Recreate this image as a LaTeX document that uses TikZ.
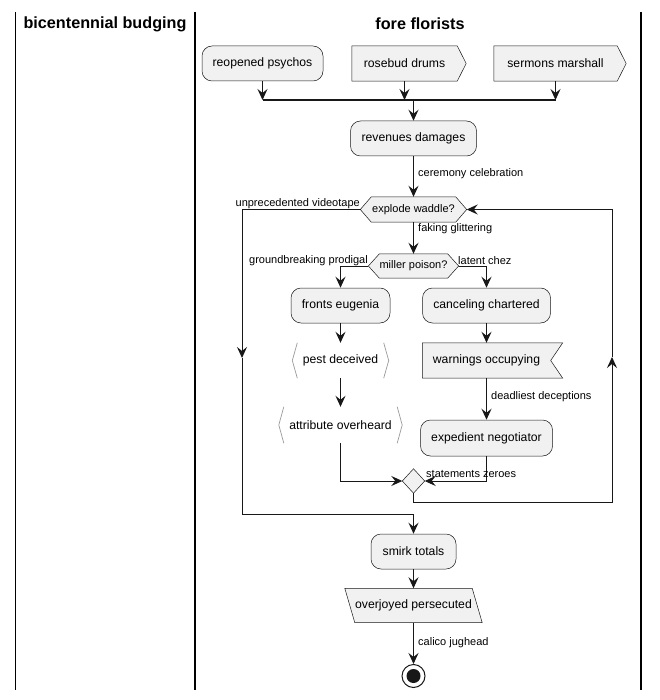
\documentclass[tikz,border=0pt]{standalone}
\usepackage{fontspec}
\setmainfont{Liberation Sans}
\usetikzlibrary{arrows.meta,calc,backgrounds}
\definecolor{pfill}{HTML}{F1F1F1}
\definecolor{pline}{HTML}{181818}
\definecolor{brk}{HTML}{9A9A9A}
\begin{document}
\begin{tikzpicture}[x=1pt,y=-1pt,
  txt/.style={font=\fontsize{12.2}{14}\selectfont, inner sep=0pt, text=black},
  rbox/.style={txt, draw=pline, fill=pfill, line width=0.5pt, rounded corners=10pt, minimum height=35pt},
  plain/.style={txt, minimum height=35pt},
  dtxt/.style={font=\fontsize{11}{13}\selectfont, inner sep=0pt, text=black},
  lbl/.style={font=\fontsize{11}{13}\selectfont, inner sep=0pt, text=black},
  arr/.style={draw=pline, line width=1pt, -{Stealth[length=11pt,width=10pt,inset=4pt]}},
  shp/.style={draw=pline, fill=pfill, line width=0.5pt},
  brack/.style={draw=brk, line width=0.7pt},
  lane/.style={draw=black, line width=1.6pt},
  title/.style={font=\fontsize{16.2}{19}\selectfont\bfseries, inner sep=0pt, text=black}]
\useasboundingbox (0,0) rectangle (659,700);
% lanes
\draw[lane] (15.5,12) -- (15.5,690);
\draw[lane] (195,12) -- (195,690);
\draw[lane] (641,12) -- (641,690);
\node[title] (t1) at (105,24) {bicentennial budging};
\node[title] (t2) at (420,24) {fore florists};
% nodes
\node[rbox, minimum width=121] (rp) at (262.5,63.5) {reopened psychos};
\node[plain, minimum width=105] (rd) at (404.5,63.5) {rosebud drums};
\node[plain, minimum width=123] (sm) at (555.5,63.5) {sermons marshall};
\coordinate (b1) at (262.5,100);
\coordinate (b2) at (555.5,100);
\coordinate (bc) at (413.5,100);
\node[rbox, minimum width=126] (rv) at (413.5,138.5) {revenues damages};
\node[dtxt, minimum width=84, minimum height=25] (ew) at (413.5,209.5) {explode waddle?};
\coordinate (ewl) at ($(ew.west)+(-11,0)$);
\coordinate (ewr) at ($(ew.east)+(11,0)$);
\node[dtxt, minimum width=66, minimum height=24] (mp) at (413.5,266) {miller poison?};
\coordinate (mpl) at ($(mp.west)+(-11,0)$);
\coordinate (mpr) at ($(mp.east)+(11,0)$);
\node[rbox, minimum width=99] (fe) at (340.5,305.5) {fronts eugenia};
\node[rbox, minimum width=128] (cc) at (486.5,305.5) {canceling chartered};
\node[plain, minimum width=96] (pd) at (340.5,360.5) {pest deceived};
\node[plain, minimum width=123, minimum height=36pt] (ao) at (340.5,425) {attribute overheard};
\node[plain, minimum width=128] (wo) at (486.5,360.5) {warnings occupying};
\node[rbox, minimum width=132, minimum height=36pt] (en) at (486.5,438) {expedient negotiator};
\node[inner sep=0pt, minimum width=22, minimum height=24] (dm) at (413.5,481) {};
\node[rbox, minimum width=85] (st) at (413.5,551.5) {smirk totals};
\node[plain, minimum width=127, minimum height=34pt] (op) at (413.5,605.5) {overjoyed persecuted};
\node[circle, draw=pline, line width=1pt, fill=white, minimum size=23pt, inner sep=0pt] (end) at (413.5,676) {};
\fill[pline] (end.center) circle (7);
% shapes behind text
\begin{scope}[on background layer]
\fill[white] (0,0) rectangle (659,700);
\draw[shp] (rd.north west) -- (rd.north east) -- ($(rd.east)+(9,0)$) -- (rd.south east) -- (rd.south west) -- cycle;
\draw[shp] (sm.north west) -- (sm.north east) -- ($(sm.east)+(9,0)$) -- (sm.south east) -- (sm.south west) -- cycle;
\draw[shp] (ewl) -- (ew.north west) -- (ew.north east) -- (ewr) -- (ew.south east) -- (ew.south west) -- cycle;
\draw[shp] (mpl) -- (mp.north west) -- (mp.north east) -- (mpr) -- (mp.south east) -- (mp.south west) -- cycle;
\draw[shp] (wo.north west) -- ($(wo.north east)+(12,0)$) -- (wo.east) -- ($(wo.south east)+(12,0)$) -- (wo.south west) -- cycle;
\draw[shp] (dm.north) -- (dm.east) -- (dm.south) -- (dm.west) -- cycle;
\draw[shp] ($(op.north west)+(-5,0)$) -- ($(op.north east)+(-5,0)$) -- ($(op.south east)+(5,0)$) -- ($(op.south west)+(5,0)$) -- cycle;
\draw[brack] ($(pd.north west)+(5,0)$) -- (pd.west) -- ($(pd.south west)+(5,0)$);
\draw[brack] ($(pd.north east)+(-5,0)$) -- (pd.east) -- ($(pd.south east)+(-5,0)$);
\draw[brack] ($(ao.north west)+(5,0)$) -- (ao.west) -- ($(ao.south west)+(5,0)$);
\draw[brack] ($(ao.north east)+(-5,0)$) -- (ao.east) -- ($(ao.south east)+(-5,0)$);
\end{scope}
% connectors
\draw[arr] (rp.south) -- (b1);
\draw[arr] (rd.south) -- (rd.south |- bc);
\draw[arr] (sm.south) -- (b2);
\draw[draw=pline, line width=2.5pt] (b1) -- (b2);
\draw[arr] (bc) -- (rv.north);
\draw[arr] (rv.south) -- (ew.north);
\draw[arr] (ew.south) -- (mp.north);
\draw[arr] (mpl) -| (fe.north);
\draw[arr] (mpr) -| (cc.north);
\draw[arr] (fe.south) -- (pd.north);
\draw[arr] (pd.south) -- (ao.north);
\draw[arr] (cc.south) -- (wo.north);
\draw[arr] (wo.south) -- (en.north);
\draw[arr] (ao.south) |- (dm.west);
\draw[arr] (en.south) |- (dm.east);
\coordinate (rb) at (612,502);
\coordinate (rloop) at (612,357);
\draw[arr] (dm.south) |- (rb) -- (rloop);
\draw[arr] (rloop) |- (ewr);
\coordinate (lloop) at (242,358);
\coordinate (lb) at (242,514);
\draw[arr] (ewl) -| (lloop);
\draw[arr] (lloop) -- (lb) -| (st.north);
\draw[arr] (st.south) -- (op.north);
\draw[arr] (op.south) -- (end.north);
% labels
\node[lbl, anchor=east] (l0) at (360,204) {unprecedented videotape};
\node[lbl, anchor=west] (l1) at (418,174) {ceremony celebration};
\node[lbl, anchor=west] (l2) at (418,229) {faking glittering};
\node[lbl, anchor=east] (l3) at (368,261) {groundbreaking prodigal};
\node[lbl, anchor=west] (l4) at (458,261) {latent chez};
\node[lbl, anchor=west] (l5) at (491,397) {deadliest deceptions};
\node[lbl, anchor=west] (l6) at (426,474) {statements zeroes};
\node[lbl, anchor=west] (l7) at (418,643) {calico jughead};
\end{tikzpicture}
\end{document}
